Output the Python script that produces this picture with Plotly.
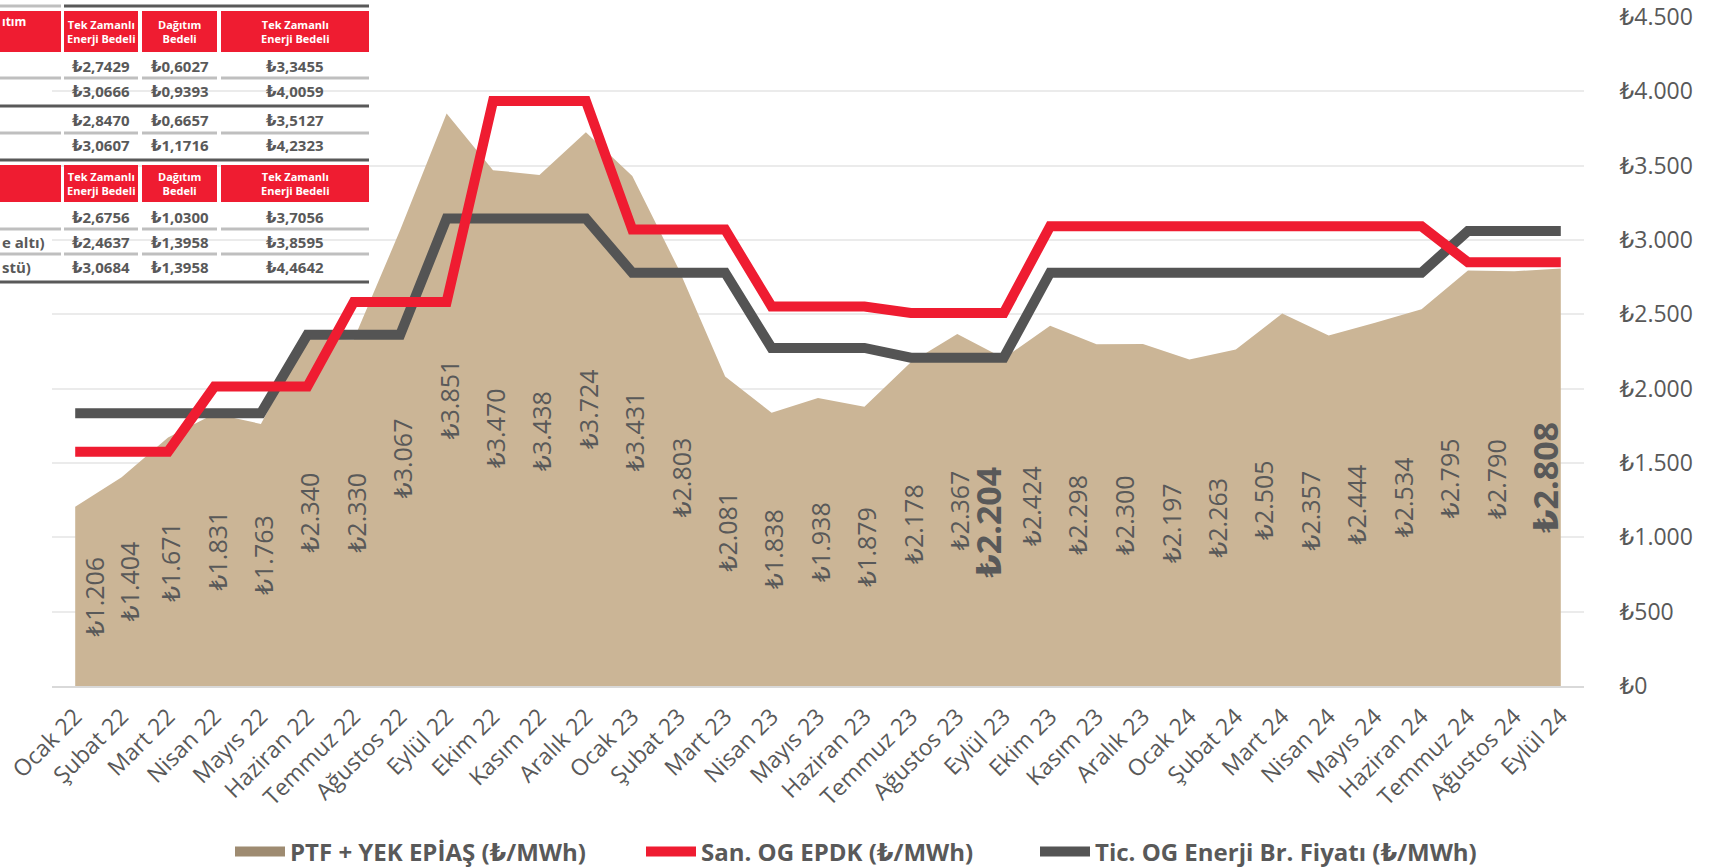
import plotly.graph_objects as go

# ---------------- data ----------------
categories = ["Ocak 22", "Şubat 22", "Mart 22", "Nisan 22", "Mayıs 22", "Haziran 22",
              "Temmuz 22", "Ağustos 22", "Eylül 22", "Ekim 22", "Kasım 22", "Aralık 22",
              "Ocak 23", "Şubat 23", "Mart 23", "Nisan 23", "Mayıs 23", "Haziran 23",
              "Temmuz 23", "Ağustos 23", "Eylül 23", "Ekim 23", "Kasım 23", "Aralık 23",
              "Ocak 24", "Şubat 24", "Mart 24", "Nisan 24", "Mayıs 24", "Haziran 24",
              "Temmuz 24", "Ağustos 24", "Eylül 24"]

ptf_yek = [1206, 1404, 1671, 1831, 1763, 2340, 2330, 3067, 3851, 3470, 3438, 3724,
           3431, 2803, 2081, 1838, 1938, 1879, 2178, 2367, 2204, 2424, 2298, 2300,
           2197, 2263, 2505, 2357, 2444, 2534, 2795, 2790, 2808]

san_og_epdk = [1576, 1576, 1576, 2014, 2014, 2014, 2583, 2583, 2583, 3935, 3935, 3935,
               3070, 3070, 3070, 2553, 2553, 2553, 2509, 2509, 2509, 3092, 3092, 3092,
               3092, 3092, 3092, 3092, 3092, 3092, 2850, 2850, 2850]

tic_og = [1834, 1834, 1834, 1834, 1834, 2362, 2362, 2362, 3145, 3145, 3145, 3145,
          2780, 2780, 2780, 2274, 2274, 2274, 2208, 2208, 2208, 2780, 2780, 2780,
          2780, 2780, 2780, 2780, 2780, 2780, 3060, 3060, 3060]

highlight = ["Eylül 23", "Eylül 24"]

series_names = ["PTF + YEK EPİAŞ (₺/MWh)", "San. OG EPDK (₺/MWh)",
                "Tic. OG Enerji Br. Fiyatı (₺/MWh)"]

# overlay table (tariff table image in the corner)
table_headers = ["Tek Zamanlı<br>Enerji Bedeli", "Dağıtım<br>Bedeli", "Tek Zamanlı<br>Enerji Bedeli"]
table_top_rows = [["₺2,7429", "₺0,6027", "₺3,3455"],
                  ["₺3,0666", "₺0,9393", "₺4,0059"],
                  ["₺2,8470", "₺0,6657", "₺3,5127"],
                  ["₺3,0607", "₺1,1716", "₺4,2323"]]
table_bottom_rows = [["₺2,6756", "₺1,0300", "₺3,7056"],
                     ["₺2,4637", "₺1,3958", "₺3,8595"],
                     ["₺3,0684", "₺1,3958", "₺4,4642"]]
table_bottom_labels = ["", "e altı)", "stü)"]
table_top_corner = "ıtım"

# ---------------- styling ----------------
W, H = 1716, 868
PLOT_L, PLOT_R, PLOT_T, PLOT_B = 52, 1584, 17, 686        # plot area in pixels
ML, MT, MR, MB = PLOT_L, PLOT_T, W - PLOT_R, H - PLOT_B
PW, PH = PLOT_R - PLOT_L, PLOT_B - PLOT_T
TXT = "#595959"
RED = "#EF1C31"
GRAY = "#545454"
TAN = "#CBB596"
FONT = "Open Sans, DejaVu Sans, sans-serif"


def px(x):
    return (x - PLOT_L) / PW


def py(y):
    return (PLOT_B - y) / PH


def fmt(v):
    return "₺" + f"{v:,}".replace(",", ".")


fig = go.Figure()

fig.add_trace(go.Scatter(x=categories, y=ptf_yek, mode="lines", fill="tozeroy",
                         fillcolor=TAN, line=dict(width=0, color=TAN),
                         name=series_names[0], showlegend=False))
# legend swatch for area
fig.add_trace(go.Scatter(x=[None], y=[None], mode="lines",
                         line=dict(color="#9E8B71", width=16),
                         name=series_names[0], legendrank=1, legendwidth=346))
fig.add_trace(go.Scatter(x=categories, y=tic_og, mode="lines",
                         line=dict(color=GRAY, width=10),
                         name=series_names[2], legendrank=3))
fig.add_trace(go.Scatter(x=categories, y=san_og_epdk, mode="lines",
                         line=dict(color=RED, width=10),
                         name=series_names[1], legendrank=2, legendwidth=329))

annotations = []
for i, (c, v) in enumerate(zip(categories, ptf_yek)):
    bold = c in highlight
    if i == 0:
        xs = 19
    elif i == 1:
        xs = 7
    elif i < 20:
        xs = 2
    else:
        xs = -19
    if bold:
        xs = -16
    annotations.append(dict(
        x=c, y=v / 2, xref="x", yref="y", text=("<b>%s</b>" % fmt(v)) if bold else fmt(v),
        textangle=-90, showarrow=False, xshift=xs, xanchor="center", yanchor="middle",
        font=dict(family=FONT, size=34 if bold else 25, color=TXT)))

# ---------------- overlay table ----------------
shapes = []
cols = [(0, 61), (64, 138), (142, 217), (221, 369)]


def rect(x0, x1, y0, y1, color):
    shapes.append(dict(type="rect", xref="paper", yref="paper",
                       x0=px(x0), x1=px(x1), y0=py(y1), y1=py(y0),
                       fillcolor=color, line=dict(width=0), layer="above"))


def hline(x0, x1, y, color, w=3):
    shapes.append(dict(type="line", xref="paper", yref="paper",
                       x0=px(x0), x1=px(x1), y0=py(y), y1=py(y),
                       line=dict(color=color, width=w), layer="above"))


def note(x, y, text, size, color, xanchor="center"):
    annotations.append(dict(x=px(x), y=py(y), xref="paper", yref="paper",
                            xanchor=xanchor, yanchor="middle", text=text, showarrow=False,
                            font=dict(family=FONT, size=size, color=color)))


LIGHT = "#BFBFBF"
hline(0, 61, 6, LIGHT)
hline(64, 369, 6, TXT)
for hy0, hy1 in [(11, 52), (165, 202)]:
    for (a, b) in cols:
        rect(a, b, hy0, hy1, RED)
    for (a, b), t in zip(cols[1:], table_headers):
        note((a + b) / 2, (hy0 + hy1) / 2, "<b>%s</b>" % t, 11, "white")
note(0, 22, "<b>%s</b>" % table_top_corner, 12, "white", xanchor="left")

top_centers = [66, 91, 120, 145]
for ry, row in zip(top_centers, table_top_rows):
    for (a, b), t in zip(cols[1:], row):
        note((a + b) / 2, ry, "<b>%s</b>" % t, 15, TXT)
for (a, b) in cols:
    hline(a, b, 78, LIGHT)
    hline(a, b, 133, LIGHT)
hline(0, 369, 106, TXT)
hline(0, 369, 160, TXT)

bot_centers = [217, 242, 267]
for ry, row, lab in zip(bot_centers, table_bottom_rows, table_bottom_labels):
    for (a, b), t in zip(cols[1:], row):
        note((a + b) / 2, ry, "<b>%s</b>" % t, 15, TXT)
    if lab:
        note(0, ry, "<b>%s</b>" % lab, 15, TXT, xanchor="left")
for (a, b) in cols:
    hline(a, b, 229, LIGHT)
    hline(a, b, 254, LIGHT)
hline(0, 369, 282, TXT)

fig.update_layout(
    width=W, height=H,
    margin=dict(l=ML, r=MR, t=MT, b=MB, pad=0, autoexpand=False),
    paper_bgcolor="white", plot_bgcolor="white",
    separators=",.",
    hovermode=False,
    font=dict(family=FONT, color=TXT),
    showlegend=True,
    legend=dict(orientation="h", xref="container", yref="container",
                x=230 / W, xanchor="left", y=(H - 852) / H, yanchor="middle",
                itemwidth=50, font=dict(family=FONT, size=24, color=TXT, weight="bold"),
                bgcolor="rgba(0,0,0,0)", traceorder="normal"),
    annotations=annotations,
    shapes=shapes,
    xaxis=dict(type="category", tickangle=-45, showgrid=False, showline=True,
               linecolor="#D9D9D9", linewidth=2, ticks="outside", ticklen=6,
               tickcolor="rgba(0,0,0,0)", automargin=False,
               tickfont=dict(family=FONT, size=23, color=TXT),
               range=[-0.5, len(categories) - 0.5]),
    yaxis=dict(side="right", range=[0, 4500], dtick=500, tickprefix="₺", tickformat=",d",
               showgrid=True, gridcolor="#EBEBEB", gridwidth=1.5, zeroline=False,
               showline=False, ticks="outside", ticklen=30, tickcolor="rgba(0,0,0,0)",
               automargin=False, ticklabeloverflow="allow",
               tickfont=dict(family=FONT, size=23, color=TXT)),
)

# remove the page's default body margin so the figure fills the window exactly
fig.write_html("out.html", config={"displayModeBar": False},
               post_script="document.body.style.margin='0px';")
